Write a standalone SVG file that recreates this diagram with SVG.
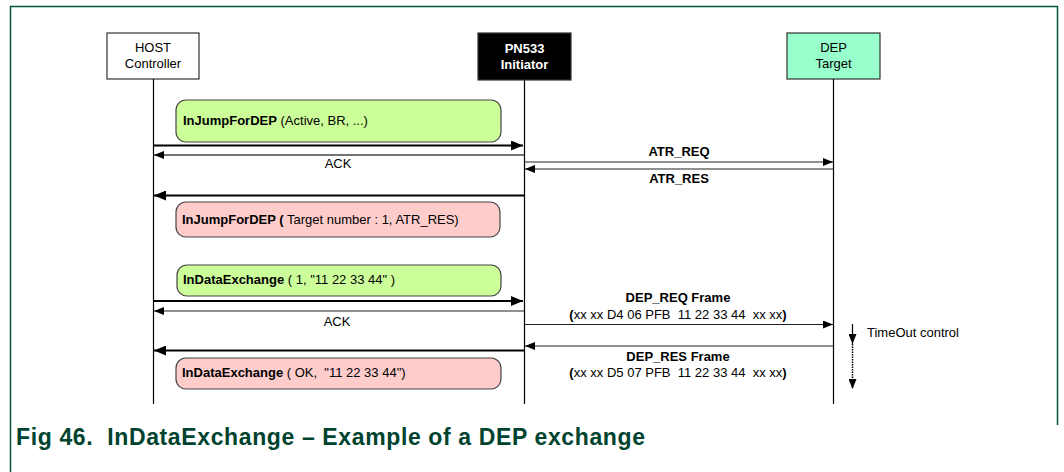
<svg xmlns="http://www.w3.org/2000/svg" width="1064" height="472" viewBox="0 0 1064 472">
<style>
text{font-family:"Liberation Sans",Arial,sans-serif;font-size:13px;fill:#000}
.b{font-weight:bold}
.c{text-anchor:middle}
.life{stroke:#000;stroke-width:1.2}
.thick{stroke:#000;stroke-width:2.2;fill:none}
.thin{stroke:#222;stroke-width:1.2;fill:none}
.ack{stroke:#444;stroke-width:1.6;fill:none}
.box{stroke:#333;stroke-width:1.2}
.msg-g{fill:#CCFF99;stroke:#444;stroke-width:1.2}
.msg-r{fill:#FFCCCC;stroke:#444;stroke-width:1.2}
</style>
<defs>
<marker id="ah" viewBox="0 0 12 10" refX="12" refY="5" markerWidth="12" markerHeight="10" markerUnits="userSpaceOnUse" orient="auto"><path d="M0,0 L12,5 L0,10 z" fill="#000"/></marker>
<marker id="as" viewBox="0 0 10 8" refX="10" refY="4" markerWidth="10" markerHeight="8" markerUnits="userSpaceOnUse" orient="auto"><path d="M0,0 L10,4 L0,8 z" fill="#000"/></marker>
</defs>
<rect width="1064" height="472" fill="#fff"/>
<path d="M10.5,472 V6.5 H1057.5 V425" fill="none" stroke="#00563F" stroke-width="1.5"/>

<g id="host">
<rect class="box" x="107" y="33" width="92" height="46" fill="#fff"/>
<text class="c" x="153" y="52">HOST</text>
<text class="c" x="153" y="68">Controller</text>
<line class="life" x1="153.5" y1="79" x2="153.5" y2="404"/>
</g>
<g id="pn533">
<rect class="box" x="478" y="33" width="93" height="47" fill="#000"/>
<text class="c b" x="524.5" y="53" style="fill:#fff">PN533</text>
<text class="c b" x="524.5" y="69" style="fill:#fff">Initiator</text>
<line class="life" x1="524.5" y1="80" x2="524.5" y2="404"/>
</g>
<g id="dep">
<rect class="box" x="787" y="33" width="93" height="46" fill="#99FFCC"/>
<text class="c" x="833.5" y="52">DEP</text>
<text class="c" x="833.5" y="68">Target</text>
<line class="life" x1="833.5" y1="79" x2="833.5" y2="404"/>
</g>

<g id="msg1">
<rect class="msg-g" x="176" y="100" width="325" height="42" rx="10"/>
<text x="183" y="125"><tspan class="b">InJumpForDEP</tspan> (Active, BR, ...)</text>
</g>
<g id="msg2">
<rect class="msg-r" x="176" y="202" width="324" height="35" rx="10"/>
<text x="182" y="224"><tspan class="b">InJumpForDEP (</tspan> Target number : 1, ATR_RES)</text>
</g>
<g id="msg3">
<rect class="msg-g" x="177" y="265" width="324" height="31" rx="10"/>
<text x="183" y="284"><tspan class="b">InDataExchange</tspan> ( 1, "11 22 33 44" )</text>
</g>
<g id="msg4">
<rect class="msg-r" x="176" y="358" width="325" height="31" rx="10"/>
<text x="182" y="377" xml:space="preserve"><tspan class="b">InDataExchange</tspan> ( OK,  "11 22 33 44")</text>
</g>

<g id="connectors">
<line class="thick" x1="153" y1="145.5" x2="523" y2="145.5" marker-end="url(#ah)"/>
<line class="ack" x1="524" y1="155" x2="154" y2="155" marker-end="url(#as)"/>
<line class="thin" x1="524" y1="162" x2="833" y2="162" marker-end="url(#as)"/>
<line class="thin" x1="833" y1="169" x2="525" y2="169" marker-end="url(#as)"/>
<line class="thick" x1="524" y1="195.5" x2="154" y2="195.5" marker-end="url(#ah)"/>
<line class="thick" x1="153" y1="301" x2="523" y2="301" marker-end="url(#ah)"/>
<line class="thin" x1="524" y1="311" x2="154" y2="311" marker-end="url(#as)"/>
<line class="thin" x1="524" y1="324.5" x2="833" y2="324.5" marker-end="url(#as)"/>
<line class="thin" x1="833" y1="346" x2="525" y2="346" marker-end="url(#as)"/>
<line class="thick" x1="524" y1="350.5" x2="154" y2="350.5" marker-end="url(#ah)"/>
<line stroke="#000" stroke-width="1.2" x1="852.5" y1="324" x2="852.5" y2="344" marker-end="url(#as)"/>
<line stroke="#000" stroke-width="1.5" stroke-dasharray="1.5,1" x1="852.5" y1="344" x2="852.5" y2="389" marker-end="url(#as)"/>
</g>

<g id="labels">
<text class="c" x="338" y="168">ACK</text>
<text class="c b" x="679" y="156">ATR_REQ</text>
<text class="c b" x="679" y="183">ATR_RES</text>
<text class="c" x="337" y="326">ACK</text>
<text class="c b" x="678" y="302">DEP_REQ Frame</text>
<text class="c" x="678" y="319" xml:space="preserve"><tspan class="b">(</tspan>xx xx D4 06 PFB  11 22 33 44  xx xx<tspan class="b">)</tspan></text>
<text class="c b" x="678" y="361">DEP_RES Frame</text>
<text class="c" x="678" y="377" xml:space="preserve"><tspan class="b">(</tspan>xx xx D5 07 PFB  11 22 33 44  xx xx<tspan class="b">)</tspan></text>
<text x="867" y="337">TimeOut control</text>
</g>

<text id="caption" x="16" y="445" xml:space="preserve" textLength="629" lengthAdjust="spacing" style="font-size:23px;font-weight:bold;fill:#00432F">Fig 46.  InDataExchange – Example of a DEP exchange</text>
</svg>
